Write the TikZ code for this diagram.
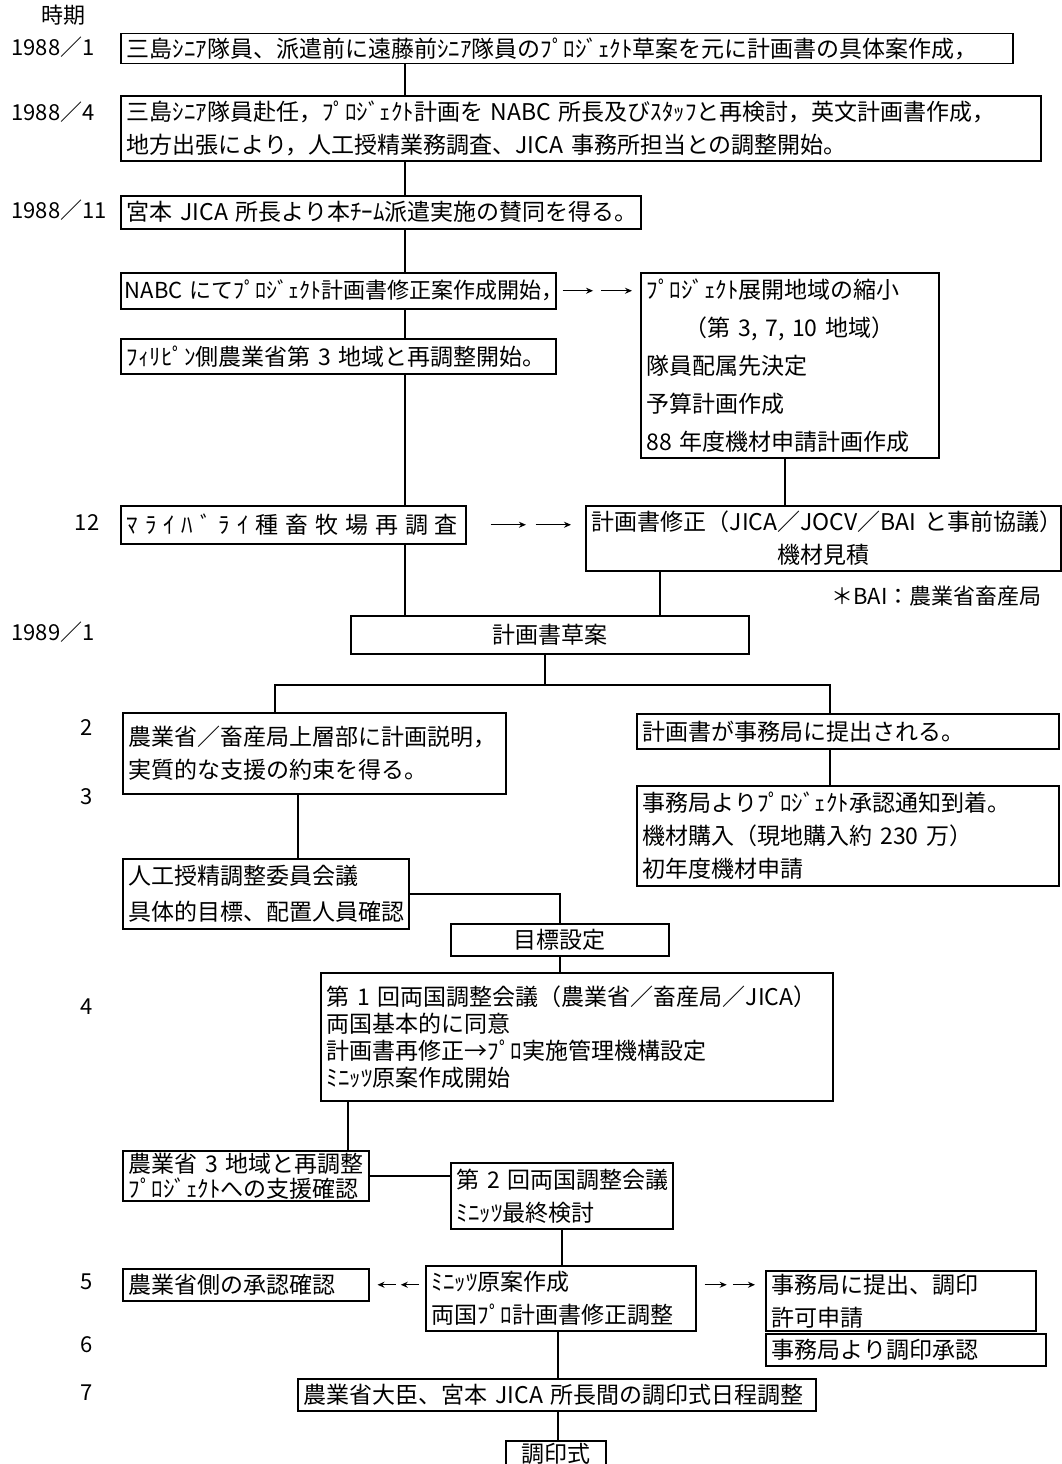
\documentclass[tikz,border=0pt]{standalone}
\usepackage{fontspec}
\newfontfamily\jp{Noto Sans CJK JP}
\newfontfamily\jpspread[LetterSpace=30]{Noto Sans CJK JP}
\usetikzlibrary{arrows.meta, decorations.markings}

\begin{document}
\begin{tikzpicture}[x=1pt, y=-1pt,
  box/.style={draw, line width=1.5pt, anchor=north west, align=left,
    inner xsep=6pt, inner ysep=2pt, font=\jp\fontsize{23}{33}\selectfont},
  link/.style={line width=1.6pt},
  passtip/.style={line width=1.3pt, -{Stealth[length=7pt,width=6pt]}},
  pass/.style={postaction={decorate}, decoration={markings,
    mark=at position 0 with {\draw[passtip] (0,0) -- (0.44*\pgfdecoratedpathlength,0);},
    mark=at position 0.56 with {\draw[passtip] (0,0) -- (0.44*\pgfdecoratedpathlength,0);}}},
  tick/.style={font=\jp\fontsize{22}{26}\selectfont}]
  \useasboundingbox (0,0) rectangle (1061,1464);

  % time axis
  \node[tick, anchor=west] (head) at (38,15) {時期};
  \node[tick, anchor=west] (y1) at (8,47) {1988／1};
  \node[tick, anchor=west] (y2) at (8,112) {1988／4};
  \node[tick, anchor=west] (y3) at (8,210) {1988／11};
  \node[tick] (m12) at (87,523) {12};
  \node[tick, anchor=west] (y4) at (8,632) {1989／1};
  \node[tick] (m2) at (87,728) {2};
  \node[tick] (m3) at (87,797) {3};
  \node[tick] (m4) at (87,1007) {4};
  \node[tick] (m5) at (87,1282) {5};
  \node[tick] (m6) at (87,1345) {6};
  \node[tick] (m7) at (87,1393) {7};

  % 1988
  \node[box, minimum width=892pt, minimum height=30pt, text width=880pt] (b1) at (120,33)
    {三島ｼﾆｱ隊員、派遣前に遠藤前ｼﾆｱ隊員のﾌﾟﾛｼﾞｪｸﾄ草案を元に計画書の具体案作成，};
  \node[box, minimum width=920pt, minimum height=65pt, text width=908pt] (b2) at (120,95)
    {三島ｼﾆｱ隊員赴任，ﾌﾟﾛｼﾞｪｸﾄ計画を~NABC~所長及びｽﾀｯﾌと再検討，英文計画書作成，\\
     地方出張により，人工授精業務調査、JICA~事務所担当との調整開始。};
  \node[box, minimum width=520pt, minimum height=33pt, text width=508pt] (b3) at (120,195)
    {宮本~JICA~所長より本ﾁｰﾑ派遣実施の賛同を得る。};
  \node[box, minimum width=435pt, minimum height=36pt, text width=427pt, inner xsep=4pt,
    font=\jp\fontsize{22}{33}\selectfont] (b4) at (120,272)
    {NABC~にてﾌﾟﾛｼﾞｪｸﾄ計画書修正案作成開始，};
  \node[box, minimum width=435pt, minimum height=35pt, text width=423pt] (b5) at (120,338)
    {ﾌｨﾘﾋﾟﾝ側農業省第~3~地域と再調整開始。};
  \node[box, minimum width=298pt, minimum height=185pt, text width=286pt,
    font=\jp\fontsize{23}{38}\selectfont] (r1) at (640,272)
    {ﾌﾟﾛｼﾞｪｸﾄ展開地域の縮小\\
     \hspace*{38pt}（第~3,~7,~10~地域）\\
     隊員配属先決定\\
     予算計画作成\\
     88~年度機材申請計画作成};
  \node[box, minimum width=345pt, minimum height=38pt, text width=333pt,
    font=\jpspread\fontsize{23}{33}\selectfont] (b6) at (120,505)
    {ﾏﾗｲﾊﾞﾗｲ種畜牧場再調査};
  \node[box, minimum width=475pt, minimum height=65pt, text width=463pt, align=center] (r2) at (585,505)
    {計画書修正（JICA／JOCV／BAI~と事前協議）\\ 機材見積};
  \node[tick, anchor=east] (note) at (1045,596) {＊BAI：農業省畜産局};

  % 1989
  \node[box, minimum width=398pt, minimum height=38pt, text width=386pt, align=center] (b7) at (350,615)
    {計画書草案};
  \node[box, minimum width=383pt, minimum height=81pt, text width=371pt] (b8) at (122,712)
    {農業省／畜産局上層部に計画説明，\\ 実質的な支援の約束を得る。};
  \node[box, minimum width=422pt, minimum height=35pt, text width=410pt] (b9) at (636,713)
    {計画書が事務局に提出される。};
  \node[box, minimum width=422pt, minimum height=100pt, text width=410pt] (b10) at (636,785)
    {事務局よりﾌﾟﾛｼﾞｪｸﾄ承認通知到着。\\ 機材購入（現地購入約~230~万）\\ 初年度機材申請};
  \node[box, minimum width=286pt, minimum height=70pt, text width=274pt,
    font=\jp\fontsize{23}{36}\selectfont] (b11) at (122,858)
    {人工授精調整委員会議\\ 具体的目標、配置人員確認};
  \node[box, minimum width=218pt, minimum height=32pt, text width=206pt, align=center] (b12) at (450,923)
    {目標設定};
  \node[box, minimum width=512pt, minimum height=128pt, text width=500pt,
    font=\jp\fontsize{23}{27}\selectfont] (b13) at (320,972)
    {第~1~回両国調整会議（農業省／畜産局／JICA）\\ 両国基本的に同意\\
     計画書再修正→ﾌﾟﾛ実施管理機構設定\\ ﾐﾆｯﾂ原案作成開始};
  \node[box, minimum width=246pt, minimum height=48pt, text width=234pt,
    font=\jp\fontsize{23}{25}\selectfont] (b14) at (122,1150)
    {農業省~3~地域と再調整\\ ﾌﾟﾛｼﾞｪｸﾄへの支援確認};
  \node[box, minimum width=222pt, minimum height=66pt, text width=210pt] (b15) at (450,1162)
    {第~2~回両国調整会議\\ ﾐﾆｯﾂ最終検討};
  \node[box, minimum width=270pt, minimum height=65pt, text width=258pt] (b16) at (425,1265)
    {ﾐﾆｯﾂ原案作成\\ 両国ﾌﾟﾛ計画書修正調整};
  \node[box, minimum width=246pt, minimum height=32pt, text width=234pt] (b17) at (122,1268)
    {農業省側の承認確認};
  \node[box, minimum width=270pt, minimum height=60pt, text width=258pt] (b18) at (765,1270)
    {事務局に提出、調印\\ 許可申請};
  \node[box, minimum width=280pt, minimum height=32pt, text width=268pt] (b19) at (765,1333)
    {事務局より調印承認};
  \node[box, minimum width=518pt, minimum height=32pt, text width=506pt] (b20) at (297,1378)
    {農業省大臣、宮本~JICA~所長間の調印式日程調整};
  \node[box, minimum width=100pt, minimum height=22pt, text width=88pt, align=center] (b21) at (505,1440)
    {調印式};

  % connectors
  \coordinate (spine) at (405,0);
  \foreach \a/\b in {b1/b2, b2/b3, b3/b4, b4/b5, b5/b6, b6/b7}
    \draw[link] (\a.south -| spine) -- (\b.north -| spine);
  \coordinate (rspine) at (785,0);
  \draw[link] (r1.south -| rspine) -- (r2.north -| rspine);
  \coordinate (rjoin) at (660,0);
  \draw[link] (r2.south -| rjoin) -- (b7.north -| rjoin);
  \path[pass] ([xshift=6pt]b4.east) -- ([xshift=-8pt]b4.east -| r1.west);
  \path[pass] ([xshift=24pt]b6.east) -- ([xshift=-14pt]b6.east -| r2.west);

  \coordinate (fork) at (545,685);
  \coordinate (forkL) at (275,685);
  \coordinate (forkR) at (830,685);
  \draw[link] (b7.south -| fork) -- (fork);
  \draw[link] (b8.north -| forkL) -- (forkL) -- (forkR) -- (b9.north -| forkR);
  \draw[link] (b9.south -| forkR) -- (b10.north -| forkR);
  \coordinate (lspine) at (298,0);
  \draw[link] (b8.south -| lspine) -- (b11.north -| lspine);
  \draw[link] (b11.east) -| (b12.north);
  \draw[link] (b12.south) -- (b12.south |- b13.north);
  \coordinate (mspine) at (348,0);
  \draw[link] (b13.south -| mspine) -- (b14.north -| mspine);
  \draw[link] (b14.east) -- (b14.east -| b15.west);
  \draw[link] (b15.south) -- (b15.south |- b16.north);
  \path[pass] ([xshift=-6pt]b16.west |- b17.east) -- ([xshift=8pt]b17.east);
  \path[pass] ([xshift=8pt]b16.east |- b17.east) -- ([xshift=-10pt]b18.west |- b17.east);
  \coordinate (cspine) at (558,0);
  \draw[link] (b16.south -| cspine) -- (b20.north -| cspine);
  \draw[link] (b20.south -| cspine) -- (b21.north -| cspine);
\end{tikzpicture}
\end{document}
